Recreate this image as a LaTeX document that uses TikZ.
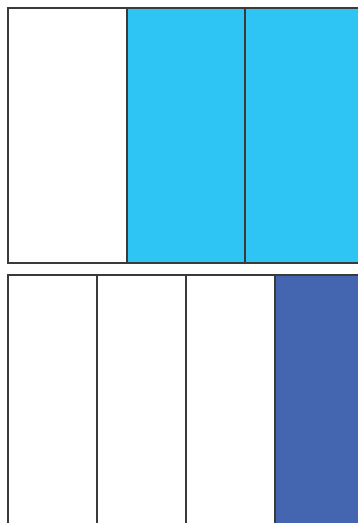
\documentclass[tikz,border=0pt]{standalone}
\definecolor{cyanfill}{HTML}{2EC4F4}
\definecolor{bluefill}{HTML}{4466B0}
\definecolor{edge}{HTML}{3A3A3A}
\tikzset{cell/.style={draw=edge,line width=1.2pt}}
\begin{document}
\begin{tikzpicture}[x=1pt,y=-1pt]
\clip (0,0) rectangle (358,523);
\fill[white] (0,0) rectangle (358,523);
% top row: thirds
\path[cell,fill=white] (8,8) rectangle (127,263);
\path[cell,fill=cyanfill] (127,8) rectangle (245,263);
\path[cell,fill=cyanfill] (245,8) rectangle (364,263);
% bottom row: quarters
\path[cell,fill=white] (8,275) rectangle (97,540);
\path[cell,fill=white] (97,275) rectangle (186,540);
\path[cell,fill=white] (186,275) rectangle (275,540);
\path[cell,fill=bluefill] (275,275) rectangle (364,540);
\end{tikzpicture}
\end{document}
